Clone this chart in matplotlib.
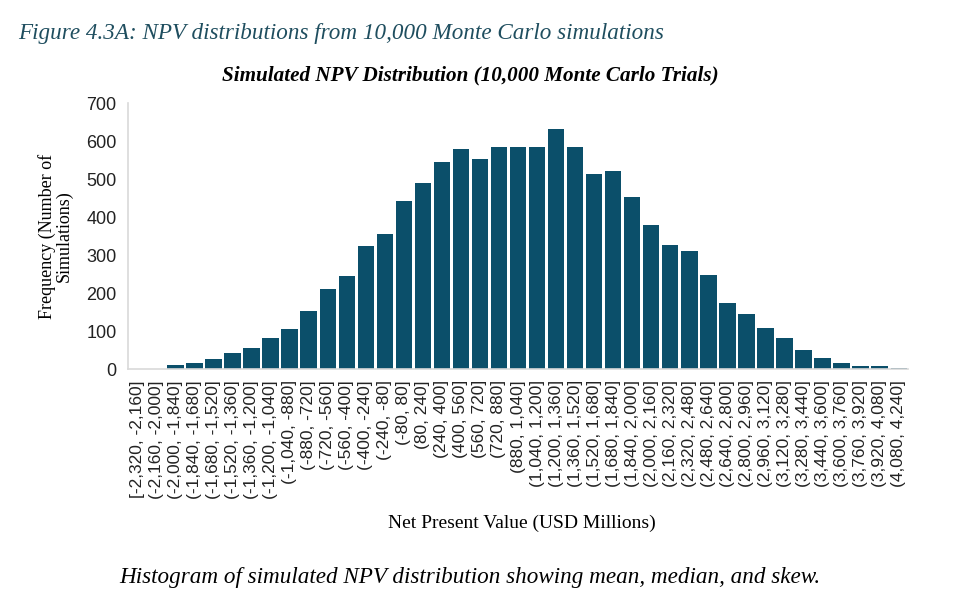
import matplotlib
matplotlib.use("Agg")
import matplotlib.pyplot as plt

bin_edges = [-2320 + 160 * i for i in range(42)]

counts = [
    0, 0, 10, 15, 27, 42, 55, 81, 105, 152,
    210, 245, 323, 355, 442, 490, 545, 579, 553, 584,
    584, 584, 632, 584, 513, 521, 453, 379, 326, 311,
    247, 174, 145, 108, 82, 50, 29, 15, 7, 7,
    4,
]

labels = []
for i in range(len(counts)):
    lo, hi = bin_edges[i], bin_edges[i + 1]
    left = "[" if i == 0 else "("
    labels.append(f"{left}{lo:,}, {hi:,}]")

bar_color = "#0b4f6a"
teal = "#1f4e5f"
serif = ["Liberation Serif", "DejaVu Serif"]
sans = ["Liberation Sans", "DejaVu Sans"]

fig = plt.figure(figsize=(9.54, 6.03), dpi=100)
ax = fig.add_axes([0.134, 0.388, 0.818, 0.441])

x = list(range(len(counts)))
ax.bar(x, counts, width=0.86, color=bar_color)

ax.set_xlim(-0.5, len(counts) - 0.5)
ax.set_ylim(0, 700)
ax.set_yticks(range(0, 701, 100))
ax.set_xticks(x)
ax.set_xticklabels(labels, rotation=90, fontsize=12.5, family=sans)
for t in ax.get_yticklabels():
    t.set_family(sans)
    t.set_fontsize(13)
ax.tick_params(axis="both", length=0, colors="#222222")
ax.tick_params(axis="x", pad=8)
ax.tick_params(axis="y", pad=8)

for s in ["top", "right"]:
    ax.spines[s].set_visible(False)
for s in ["left", "bottom"]:
    ax.spines[s].set_color("#d9d9d9")
    ax.spines[s].set_linewidth(1.2)

ax.set_ylabel("Frequency (Number of\nSimulations)", family=serif, fontsize=13,
              linespacing=1.0)
ax.yaxis.set_label_coords(-0.07, 0.5)

fig.text(0.019, 0.945, "Figure 4.3A: NPV distributions from 10,000 Monte Carlo simulations",
         family=serif, style="italic", fontsize=16.7, color=teal, ha="left", va="center")
fig.text(0.493, 0.874, "Simulated NPV Distribution (10,000 Monte Carlo Trials)",
         family=serif, style="italic", weight="bold", fontsize=15.2, ha="center", va="center")
fig.text(0.547, 0.132, "Net Present Value (USD Millions)",
         family=serif, fontsize=14, ha="center", va="center")
fig.text(0.492, 0.043, "Histogram of simulated NPV distribution showing mean, median, and skew.",
         family=serif, style="italic", fontsize=16.7, ha="center", va="center")

fig.savefig("out.png", dpi=100, facecolor="white")
